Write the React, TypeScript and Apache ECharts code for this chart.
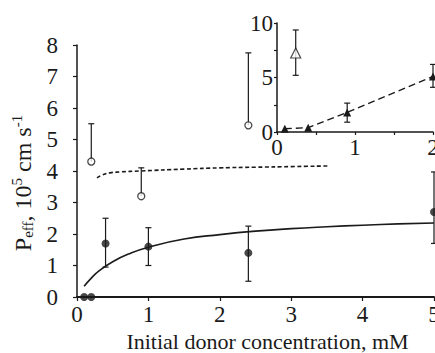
import React, { useEffect, useRef } from "react";
import * as echarts from "echarts";

// ---- Main plot data ----
const fitX = [0.1, 0.2, 0.3, 0.5, 0.75, 1, 1.5, 2, 2.5, 3, 3.5, 4, 4.5, 5];
const fitY = [0.34, 0.6, 0.81, 1.12, 1.39, 1.58, 1.84, 1.98, 2.09, 2.17, 2.23, 2.28, 2.32, 2.35];
const dashX = [0.28, 0.35, 0.46, 0.6, 0.88, 1.5, 2.0, 2.5, 3.0, 3.52];
const dashY = [3.78, 3.87, 3.94, 3.97, 4.0, 4.06, 4.1, 4.12, 4.14, 4.16];
const filledX = [0.1, 0.2, 0.4, 1.0, 2.4, 5.0];
const filledY = [0, 0, 1.7, 1.6, 1.4, 2.7];
const filledLo = [0, 0, 0.95, 1.0, 0.5, 1.7];
const filledHi = [0, 0, 2.5, 2.2, 2.25, 3.97];
const openX = [0.2, 0.9, 2.4];
const openY = [4.3, 3.2, 5.45];
const openHi = [5.5, 4.1, 7.75];

// ---- Inset data ----
const insetX = [0.1, 0.4, 0.9, 2.0];
const insetY = [0.3, 0.4, 1.8, 5.1];
const insetLo = [0.3, 0.4, 0.9, 4.1];
const insetHi = [0.3, 0.4, 2.65, 6.2];
const insetOpenX = [0.24];
const insetOpenY = [7.25];
const insetOpenLo = [5.2];
const insetOpenHi = [9.36];

const mainXTicks = [0, 1, 2, 3, 4, 5];
const mainYTicks = [0, 1, 2, 3, 4, 5, 6, 7, 8];

const FONT = "Liberation Serif";
const INK = "#1a1a1a";

function errRender(capLow: boolean) {
  return (params: any, api: any) => {
    const x = api.value(0);
    const lo = api.value(1);
    const hi = api.value(2);
    const pLo = api.coord([x, lo]);
    const pHi = api.coord([x, hi]);
    const w = 3;
    const st = { stroke: INK, lineWidth: 1.2 };
    const children: any[] = [
      { type: "line", shape: { x1: pLo[0], y1: pLo[1], x2: pHi[0], y2: pHi[1] }, style: st },
      { type: "line", shape: { x1: pHi[0] - w, y1: pHi[1], x2: pHi[0] + w, y2: pHi[1] }, style: st },
    ];
    if (capLow) {
      children.push({ type: "line", shape: { x1: pLo[0] - w, y1: pLo[1], x2: pLo[0] + w, y2: pLo[1] }, style: st });
    }
    return { type: "group", children };
  };
}

const richNum = { n: { fontFamily: FONT, fontSize: 23, lineHeight: 24, color: INK } };

function tickLabel(margin: number, keep: (v: number) => boolean) {
  return {
    show: true,
    margin,
    formatter: (v: number) => (keep(v) ? "{n|" + String(v) + "}" : ""),
    rich: richNum,
  };
}

export default function App() {
  const ref = useRef<HTMLDivElement>(null);
  useEffect(() => {
    if (!ref.current) return;
    const chart = echarts.init(ref.current, null, { renderer: "svg" });

    const option: any = {
      animation: false,
      backgroundColor: "#ffffff",
      textStyle: { fontFamily: FONT, color: INK },
      grid: [
        { left: 77, top: 45, width: 357, height: 252, containLabel: false, outerBoundsMode: "none" },
        { left: 277, top: 23, width: 156, height: 109, containLabel: false, outerBoundsMode: "none" },
      ],
      xAxis: [
        {
          type: "value",
          gridIndex: 0,
          min: mainXTicks[0],
          max: mainXTicks[mainXTicks.length - 1],
          interval: 1,
          splitLine: { show: false },
          axisLine: { lineStyle: { color: INK, width: 2 } },
          axisTick: { length: 4, lineStyle: { color: INK, width: 1.2 } },
          axisLabel: tickLabel(5, () => true),
          name: "{t|Initial donor concentration, mM}",
          nameLocation: "middle",
          nameGap: 32,
          nameTextStyle: {
            padding: [0, 0, 0, 24],
            rich: { t: { fontFamily: FONT, fontSize: 22, lineHeight: 24, color: INK } },
          },
        },
        {
          type: "value",
          gridIndex: 1,
          min: 0,
          max: 2,
          interval: 0.5,
          splitLine: { show: false },
          axisLine: { lineStyle: { color: INK, width: 1.5 } },
          axisTick: { length: 3, lineStyle: { color: INK, width: 1.2 } },
          axisLabel: tickLabel(3, (v: number) => Number.isInteger(v)),
        },
      ],
      yAxis: [
        {
          type: "value",
          gridIndex: 0,
          min: mainYTicks[0],
          max: mainYTicks[mainYTicks.length - 1],
          interval: 1,
          splitLine: { show: false },
          axisLine: { show: true, lineStyle: { color: INK, width: 1.5 } },
          axisTick: { show: true, length: 4, lineStyle: { color: INK, width: 1.2 } },
          axisLabel: tickLabel(19, () => true),
          name: "{m|P}{sub|eff}{m|, 10}{sup|5}{m| cm s}{sup|-1}",
          nameLocation: "middle",
          nameRotate: 90,
          nameGap: 41,
          nameTextStyle: {
            padding: [0, 24, 0, 0],
            rich: {
              m: { fontFamily: FONT, fontSize: 24, lineHeight: 26, color: INK },
              sub: { fontFamily: FONT, fontSize: 15, lineHeight: 10, verticalAlign: "bottom", color: INK },
              sup: { fontFamily: FONT, fontSize: 15, lineHeight: 10, verticalAlign: "top", color: INK },
            },
          },
        },
        {
          type: "value",
          gridIndex: 1,
          min: 0,
          max: 10,
          interval: 2.5,
          splitLine: { show: false },
          axisLine: { show: true, lineStyle: { color: INK, width: 1.5 } },
          axisTick: { show: true, length: 3, lineStyle: { color: INK, width: 1.2 } },
          axisLabel: tickLabel(4, (v: number) => v % 5 === 0),
        },
      ],
      series: [
        {
          type: "line",
          xAxisIndex: 0,
          yAxisIndex: 0,
          data: fitX.map((x, i) => [x, fitY[i]]),
          smooth: true,
          showSymbol: false,
          lineStyle: { color: INK, width: 1.6 },
          z: 2,
        },
        {
          type: "line",
          xAxisIndex: 0,
          yAxisIndex: 0,
          data: dashX.map((x, i) => [x, dashY[i]]),
          smooth: true,
          showSymbol: false,
          lineStyle: { color: INK, width: 1.6, type: [4, 2.5] },
          z: 2,
        },
        {
          type: "custom",
          xAxisIndex: 0,
          yAxisIndex: 0,
          renderItem: errRender(true),
          encode: { x: 0, y: [1, 2] },
          data: filledX.map((x, i) => [x, filledLo[i], filledHi[i]]).filter((d) => d[2] > d[1]),
          clip: false,
          z: 3,
        },
        {
          type: "custom",
          xAxisIndex: 0,
          yAxisIndex: 0,
          renderItem: errRender(false),
          encode: { x: 0, y: [1, 2] },
          data: openX.map((x, i) => [x, openY[i], openHi[i]]),
          z: 3,
        },
        {
          type: "scatter",
          xAxisIndex: 0,
          yAxisIndex: 0,
          data: filledX.map((x, i) => [x, filledY[i]]),
          symbol: "circle",
          symbolSize: 8,
          itemStyle: { color: INK },
          clip: false,
          z: 4,
        },
        {
          type: "scatter",
          xAxisIndex: 0,
          yAxisIndex: 0,
          data: openX.map((x, i) => [x, openY[i]]),
          symbol: "circle",
          symbolSize: 7,
          itemStyle: { color: "#ffffff", borderColor: INK, borderWidth: 1.3 },
          z: 5,
        },
        // inset
        {
          type: "line",
          xAxisIndex: 1,
          yAxisIndex: 1,
          data: insetX.map((x, i) => [x, insetY[i]]),
          symbol: "triangle",
          symbolSize: 8,
          showSymbol: true,
          itemStyle: { color: INK },
          lineStyle: { color: INK, width: 1.4, type: [7, 4] },
          z: 4,
        },
        {
          type: "custom",
          xAxisIndex: 1,
          yAxisIndex: 1,
          renderItem: errRender(true),
          encode: { x: 0, y: [1, 2] },
          data: insetX.map((x, i) => [x, insetLo[i], insetHi[i]]).filter((d) => d[2] > d[1]),
          z: 3,
        },
        {
          type: "custom",
          xAxisIndex: 1,
          yAxisIndex: 1,
          renderItem: errRender(true),
          encode: { x: 0, y: [1, 2] },
          data: insetOpenX.map((x, i) => [x, insetOpenLo[i], insetOpenHi[i]]),
          z: 3,
        },
        {
          type: "scatter",
          xAxisIndex: 1,
          yAxisIndex: 1,
          data: insetOpenX.map((x, i) => [x, insetOpenY[i]]),
          symbol: "triangle",
          symbolSize: 10,
          itemStyle: { color: "#ffffff", borderColor: INK, borderWidth: 1.2 },
          z: 5,
        },
      ],
    };
    chart.setOption(option);
    return () => chart.dispose();
  }, []);

  return (
    <div
      ref={ref}
      style={{ position: "fixed", left: 0, top: 0, width: 435, height: 353, background: "#fff" }}
    />
  );
}
